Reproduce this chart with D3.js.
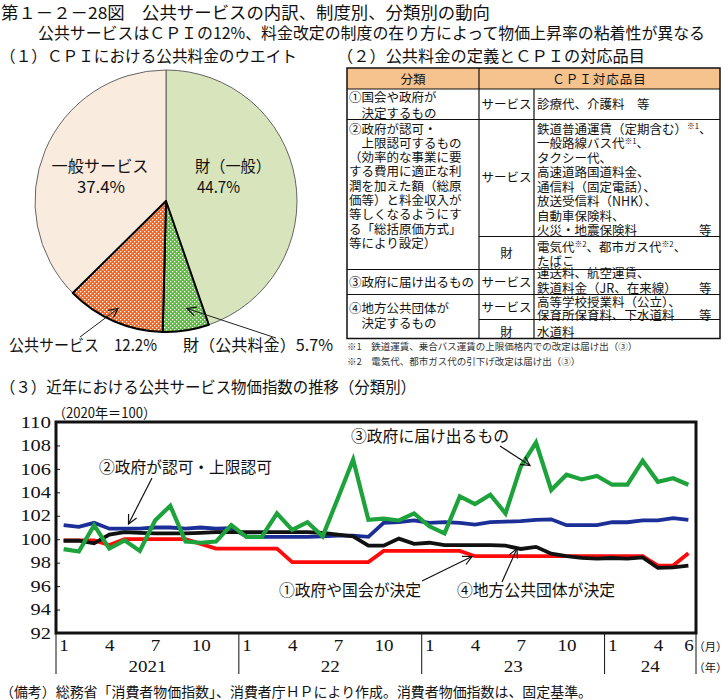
<!DOCTYPE html>
<html><head><meta charset="utf-8">
<script src="https://cdn.jsdelivr.net/npm/d3@7"></script>
<style>
html,body{margin:0;padding:0;background:#fff;}
svg{display:block;}
text{font-family:"Noto Sans CJK JP","Noto Sans",sans-serif;fill:#111;}
.serif{font-family:"Liberation Serif","Noto Sans CJK JP",serif;}
</style></head><body>
<svg id="c" width="728" height="700"></svg>
<script>
// ---------- DATA ----------
const titleText = "第１－２－28図　公共サービスの内訳、制度別、分類別の動向";
const subtitleText = "公共サービスはＣＰＩの12%、料金改定の制度の在り方によって物価上昇率の粘着性が異なる";
const panel1Title = "（１）ＣＰＩにおける公共料金のウエイト";
const panel2Title = "（２）公共料金の定義とＣＰＩの対応品目";
const panel3Title = "（３）近年における公共サービス物価指数の推移（分類別）";
const footerText = "（備考）総務省「消費者物価指数」、消費者庁ＨＰにより作成。消費者物価指数は、固定基準。";

// Pie
const pieLabels = ["財（一般）", "財（公共料金）", "公共サービス", "一般サービス"];
const pieValues = [44.7, 5.7, 12.2, 37.4];

// Table
const tableHeader = ["分類", "ＣＰＩ対応品目"];
const row1Class = ["①国会や政府が", "　決定するもの"];
const row1Service = ["診療代、介護料　等"];
const row2Class = ["②政府が認可・", "　上限認可するもの", "（効率的な事業に要", "する費用に適正な利", "潤を加えた額（総原", "価等）と料金収入が", "等しくなるようにす", "る「総括原価方式」", "等により設定）"];
const row2Service = ["鉄道普通運賃（定期含む）^※1^、", "一般路線バス代^※1^、", "タクシー代、", "高速道路国道料金、", "通信料（固定電話）、", "放送受信料（NHK）、", "自動車保険料、", "火災・地震保険料|等"];
const row2Goods = ["電気代^※2^、都市ガス代^※2^、", "たばこ"];
const row3Class = ["③政府に届け出るもの"];
const row3Service = ["運送料、航空運賃、", "鉄道料金（JR、在来線）|等"];
const row4Class = ["④地方公共団体が", "　決定するもの"];
const row4Service = ["高等学校授業料（公立）、", "保育所保育料、下水道料|等"];
const row4Goods = ["水道料"];
const typeLabels = ["サービス", "財"];
const footnotes = ["※1　鉄道運賃、乗合バス運賃の上限価格内での改定は届け出（③）", "※2　電気代、都市ガス代の引下げ改定は届け出（③）"];

// Line chart
const months = [
 "2021/1","2021/2","2021/3","2021/4","2021/5","2021/6","2021/7","2021/8","2021/9","2021/10","2021/11","2021/12",
 "2022/1","2022/2","2022/3","2022/4","2022/5","2022/6","2022/7","2022/8","2022/9","2022/10","2022/11","2022/12",
 "2023/1","2023/2","2023/3","2023/4","2023/5","2023/6","2023/7","2023/8","2023/9","2023/10","2023/11","2023/12",
 "2024/1","2024/2","2024/3","2024/4","2024/5","2024/6"];
const monthTicks = ["2021/1","2021/4","2021/7","2021/10","2022/1","2022/4","2022/7","2022/10","2023/1","2023/4","2023/7","2023/10","2024/1","2024/4","2024/6"];
const monthTickLabels = ["1","4","7","10","1","4","7","10","1","4","7","10","1","4","6"];
const yearKeys = ["2021","2022","2023","2024"];
const yearLabels = ["2021","22","23","24"];
const yTicks = [92,94,96,98,100,102,104,106,108,110];
const yUnit = "（2020年＝100）";

const seriesNames = ["①政府や国会が決定", "②政府が認可・上限認可", "③政府に届け出るもの", "④地方公共団体が決定"];
const series1 = [99.9,99.9,99.9,99.5,100.0,100.0,100.0,100.0,100.0,99.6,99.2,99.2,
 99.2,99.2,99.2,98.05,98.05,98.05,98.05,98.05,98.05,99.0,99.0,99.0,
 99.0,99.0,99.0,98.55,98.55,98.55,98.55,98.55,98.55,98.55,98.55,98.55,
 98.55,98.55,98.55,97.75,97.75,98.8];
const series2 = [101.2,101.05,101.4,100.9,100.9,100.9,101.0,101.0,100.9,101.0,100.9,100.95,
 100.25,100.2,100.2,100.2,100.2,100.25,100.3,100.3,100.2,101.4,101.45,101.6,
 101.4,101.45,101.4,101.25,101.45,101.5,101.55,101.65,101.7,101.2,101.2,101.2,
 101.45,101.45,101.6,101.6,101.8,101.65];
const series3 = [99.15,98.95,101.2,99.2,99.9,99.0,101.6,102.85,99.8,99.7,99.8,101.2,
 100.2,100.2,102.2,100.8,101.45,100.25,103.5,106.8,101.65,101.75,101.6,102.2,
 101.1,100.5,103.65,103.0,103.8,102.2,106.2,108.25,104.2,105.5,105.1,105.4,
 104.65,104.65,106.7,104.9,105.2,104.65];
const series4 = [99.87,99.87,99.65,100.4,100.6,100.55,100.5,100.5,100.5,100.55,100.6,100.6,
 100.6,100.6,100.6,100.6,100.6,100.55,100.4,100.25,99.45,99.45,100.05,99.6,
 99.7,99.5,99.5,99.5,99.5,99.45,99.17,99.35,98.77,98.55,98.4,98.34,
 98.4,98.34,98.45,97.55,97.6,97.75];

// ---------- DRAW ----------
const svg = d3.select("#c");
const defs = svg.append("defs");

// patterns
function dotPattern(id, bg) {
  const p = defs.append("pattern").attr("id",id).attr("width",4).attr("height",4).attr("patternUnits","userSpaceOnUse");
  p.append("rect").attr("width",4).attr("height",4).attr("fill",bg);
  p.append("rect").attr("x",0).attr("y",0).attr("width",1.3).attr("height",1.3).attr("fill","#fff");
  p.append("rect").attr("x",2).attr("y",2).attr("width",1.3).attr("height",1.3).attr("fill","#fff");
}
dotPattern("pOrange", "#ee6420");
dotPattern("pGreen", "#5cb83e");

// arrow marker
defs.append("marker").attr("id","arr").attr("viewBox","-10 -6 12 12").attr("refX",0).attr("refY",0)
  .attr("markerWidth",12).attr("markerHeight",12).attr("markerUnits","userSpaceOnUse").attr("orient","auto")
  .append("path").attr("d","M-9,-4.5 L0,0 L-9,4.5").attr("fill","none").attr("stroke","#111").attr("stroke-width",1.2);

function txt(g, s, x, y, size, opts={}) {
  const t = g.append("text").attr("x",x).attr("y",y).attr("font-size",size).text(s);
  if (opts.len) t.attr("textLength",opts.len).attr("lengthAdjust","spacingAndGlyphs");
  if (opts.anchor) t.attr("text-anchor",opts.anchor);
  if (opts.cls) t.attr("class",opts.cls);
  if (opts.fill) t.style("fill",opts.fill);
  return t;
}
// multi-line text: items = [{s,x,y,size,len}]
function multi(g, items, opts={}) {
  const t = g.append("text");
  if (opts.anchor) t.attr("text-anchor",opts.anchor);
  if (opts.fill) t.style("fill",opts.fill);
  items.forEach(it=>{
    const ts = t.append("tspan").attr("x",it.x).attr("y",it.y).attr("font-size",it.size).text(it.s);
    if (it.len) ts.attr("textLength",it.len).attr("lengthAdjust","spacingAndGlyphs");
  });
  return t;
}

// titles
multi(svg, [
  {s:titleText, x:1, y:19, size:16.5, len:489},
  {s:subtitleText, x:38, y:38.5, size:16, len:667}
]);
txt(svg, panel1Title, 0, 62, 16, {len: 297});
txt(svg, panel2Title, 337, 62, 16, {len: 308});
txt(svg, panel3Title, 0, 393, 16, {len: 416});

// ---------- PIE ----------
const pieG = svg.append("g").attr("transform","translate(166,201)");
const R = 131;
const pie = d3.pie().sort(null).value(d=>d)(pieValues);
const arc = d3.arc().innerRadius(0).outerRadius(R);
const pieFills = ["#d8e4bc", "url(#pGreen)", "url(#pOrange)", "#f9ebdd"];
const emph = [false, true, true, false];
pieG.selectAll("path.gen").data(pie.filter((d,i)=>!emph[i])).join("path")
  .attr("d",arc).attr("fill",d=>pieFills[d.index]).attr("stroke","#555").attr("stroke-width",0.9);
pieG.selectAll("path.em").data(pie.filter((d,i)=>emph[i])).join("path")
  .attr("d",arc).attr("fill",d=>pieFills[d.index]).attr("stroke","#000").attr("stroke-width",2).attr("stroke-linejoin","round");

// pie labels
multi(svg, [
  {s:pieLabels[0], x:195, y:172, size:16, len:76},
  {s:pieValues[0].toFixed(1)+"%", x:197, y:193, size:16, len:43}
]);
multi(svg, [
  {s:pieLabels[3], x:100, y:172, size:16, len:97},
  {s:pieValues[3].toFixed(1)+"%", x:101, y:193, size:16, len:48}
], {anchor:"middle"});
txt(svg, pieLabels[2]+"　"+pieValues[2].toFixed(1)+"%", 9, 351, 16, {len: 148});
txt(svg, pieLabels[1]+pieValues[1].toFixed(1)+"%", 183, 351, 16, {len: 150});
// pie arrows
svg.append("line").attr("x1",80).attr("y1",337).attr("x2",118).attr("y2",308.5)
  .attr("stroke","#222").attr("stroke-width",1).attr("marker-end","url(#arr)");
svg.append("line").attr("x1",276).attr("y1",338).attr("x2",187).attr("y2",308.5)
  .attr("stroke","#222").attr("stroke-width",1).attr("marker-end","url(#arr)");

// ---------- TABLE ----------
const T = {l:347, c1:479, c2:534, r:720, top:68, hb:89, r1:119.5, r2s:236.5, r2:269.5, r3:294.5, r4s:319.5, b:338.5};
const tg = svg.append("g");
tg.append("rect").attr("x",T.l).attr("y",T.top).attr("width",T.r-T.l).attr("height",T.hb-T.top).attr("fill","#f6c28d");
const lineAttrs = (l)=>l.attr("stroke","#111").attr("stroke-width",1.2);
function hl(y,x1,x2){lineAttrs(tg.append("line").attr("x1",x1).attr("x2",x2).attr("y1",y).attr("y2",y));}
function vl(x,y1,y2){lineAttrs(tg.append("line").attr("x1",x).attr("x2",x).attr("y1",y1).attr("y2",y2));}
tg.append("rect").attr("x",T.l).attr("y",T.top).attr("width",T.r-T.l).attr("height",T.b-T.top)
  .attr("fill","none").attr("stroke","#111").attr("stroke-width",1.5);
hl(T.hb,T.l,T.r); hl(T.r1,T.l,T.r); hl(T.r2s,T.c1,T.r); hl(T.r2,T.l,T.r); hl(T.r3,T.l,T.r); hl(T.r4s,T.c1,T.r);
vl(T.c1,T.top,T.b); vl(T.c2,T.hb,T.b);

const FS = 12.5;
// one <text> per cell, one tspan per line
function block(lines, x, y0, dy) {
  const t = tg.append("text").attr("font-size",FS);
  lines.forEach((s,i)=>{
    const y = y0 + i*dy;
    const parts = s.split("|");
    const segs = parts[0].split("^");
    let first = true, raised = false;
    segs.forEach((p,k)=>{
      if (!p) return;
      const sup = k%2===1;
      const ts = t.append("tspan").text(p);
      if (first) { ts.attr("x",x).attr("y",y); first = false; }
      if (sup) { ts.attr("font-size",FS*0.62).attr("dy",-4.5); raised = true; }
      else if (raised) { ts.attr("dy",4.5); raised = false; }
    });
    if (parts[1]) t.append("tspan").attr("x",T.r-21).attr("y",y).text(parts[1]);
  });
}

// header
tg.append("text").attr("x",(T.l+T.c1)/2).attr("y",83.5).attr("font-size",12.5).attr("text-anchor","middle").text(tableHeader[0]);
tg.append("text").attr("x",(T.c1+T.r)/2).attr("y",83.5).attr("font-size",12.5).attr("text-anchor","middle").attr("letter-spacing",1).text(tableHeader[1]);
// rows
block(row1Class, 349, 101.5, 16);
block(row1Service, 537, 109, 15);
block(row2Class, 349, 133.5, 14.3);
block(row2Service, 537, 133.5, 14.5);
block(row2Goods, 537, 251.5, 14);
block(row3Class, 349, 287, 15);
block(row3Service, 537, 278, 14.5);
block(row4Class, 349, 313, 14.5);
block(row4Service, 537, 306.5, 13.5);
block(row4Goods, 537, 337, 15);
const typeX = (T.c1+T.c2)/2;
function typeLabel(s, y) { tg.append("text").attr("x",typeX).attr("y",y).attr("font-size",FS).attr("text-anchor","middle").attr("textLength",50).attr("lengthAdjust","spacing").text(s); }
typeLabel(typeLabels[0], 109);
typeLabel(typeLabels[0], 182);
typeLabel(typeLabels[1], 257.5);
typeLabel(typeLabels[0], 287);
typeLabel(typeLabels[0], 311.5);
typeLabel(typeLabels[1], 337);
multi(svg, footnotes.map((s,i)=>({s, x:347, y:350+i*14.5, size:9.5})), {fill:"#333"});

// ---------- LINE CHART ----------
const P = {l:56, r:696, t:422, b:633};
const x = d3.scalePoint().domain(months).range([P.l, P.r]).padding(0.5);
const y = d3.scaleLinear().domain([92,110]).range([P.b, P.t]);
const step = x.step();
const cg = svg.append("g");

// y axis
const ya = cg.append("g").attr("transform",`translate(${P.l},0)`)
  .call(d3.axisLeft(y).tickValues(yTicks).tickSize(-4).tickPadding(5).tickFormat(d=>String(d)));
ya.select(".domain").remove();
ya.selectAll(".tick line").attr("stroke","#111").attr("stroke-width",1);
ya.selectAll(".tick text").attr("class","serif").attr("font-size",16).attr("font-family",null)
  .attr("textLength",d=>String(d).length*10.2).attr("lengthAdjust","spacingAndGlyphs").style("fill","#111");

// x axis
const xa = cg.append("g").attr("transform",`translate(0,${P.b})`)
  .call(d3.axisBottom(x).tickValues(monthTicks).tickSize(0).tickPadding(7).tickFormat((d,i)=>monthTickLabels[i]));
xa.select(".domain").remove();
xa.selectAll(".tick text").attr("class","serif").attr("font-size",16).attr("font-family",null)
  .attr("textLength",(d,i)=>monthTickLabels[i].length*9.5).attr("lengthAdjust","spacingAndGlyphs").style("fill","#111");

// year separators & labels
const yearOf = m => m.split("/")[0];
yearKeys.forEach((yk,i)=>{
  const ms = months.filter(m=>yearOf(m)===yk);
  const x0 = x(ms[0]) - step/2, x1 = x(ms[ms.length-1]) + step/2;
  cg.append("line").attr("x1",x0).attr("x2",x0).attr("y1",P.b).attr("y2",674).attr("stroke","#111").attr("stroke-width",1);
  if (i===yearKeys.length-1) cg.append("line").attr("x1",x1).attr("x2",x1).attr("y1",P.b).attr("y2",674).attr("stroke","#111").attr("stroke-width",1);
  cg.append("text").attr("class","serif").attr("x",(x0+x1)/2).attr("y",672).attr("font-size",16)
    .attr("text-anchor","middle").attr("textLength",yearLabels[i].length*9.5).attr("lengthAdjust","spacingAndGlyphs").text(yearLabels[i]);
});
txt(svg, "（月）", 693.5, 651, 11.3);
txt(svg, "（年）", 693.5, 672, 11.3);
txt(svg, yUnit, 53, 418, 14, {len: 103});

// lines
const line = d3.line().x((d,i)=>x(months[i])).y(d=>y(d));
const drawOrder = [
  {data: series2, color:"#1b2f96", w:3.8},
  {data: series1, color:"#ff0a0a", w:3.8},
  {data: series4, color:"#111111", w:3.8},
  {data: series3, color:"#1ea33c", w:4.2}
];
drawOrder.forEach(s=>{
  cg.append("path").datum(s.data).attr("d",line).attr("fill","none")
    .attr("stroke",s.color).attr("stroke-width",s.w).attr("stroke-linejoin","miter");
});

// frame
cg.append("rect").attr("x",P.l).attr("y",P.t).attr("width",P.r-P.l).attr("height",P.b-P.t)
  .attr("fill","none").attr("stroke","#111").attr("stroke-width",3);

// annotations
txt(svg, seriesNames[1], 99, 473, 16, {len: 173});
txt(svg, seriesNames[2], 351, 442, 16, {len: 158});
txt(svg, seriesNames[0], 279, 596, 16, {len: 142});
txt(svg, seriesNames[3], 457, 596, 16, {len: 158});
function arrow(x1,y1,x2,y2){ svg.append("line").attr("x1",x1).attr("y1",y1).attr("x2",x2).attr("y2",y2)
  .attr("stroke","#111").attr("stroke-width",1.2).attr("marker-end","url(#arr)"); }
arrow(152,478,128.5,524);
arrow(500,446,530,465.5);
arrow(422,581,472,556.5);
arrow(502,582,517,548.5);

// footer
txt(svg, footerText, 0, 697, 14, {len: 592});
</script>
</body></html>
